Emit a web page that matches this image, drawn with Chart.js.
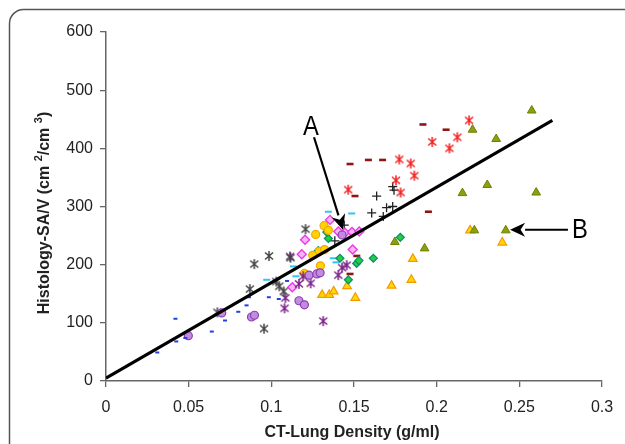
<!DOCTYPE html>
<html>
<head>
<meta charset="utf-8">
<script src="https://cdn.jsdelivr.net/npm/chart.js@4.4.0/dist/chart.umd.min.js"></script>
<style>
  html, body { margin: 0; padding: 0; background: #fff; }
</style>
</head>
<body>
<canvas id="chart" width="625" height="444"></canvas>
<script>
// values: [CT density g/ml, SA/V cm2/cm3]
const blueDash = [[0.031,49],[0.042,107],[0.0425,68],[0.048,74],[0.064,85],[0.072,104],[0.080,119],[0.085,130],[0.0865,144],[0.0985,144],[0.1045,141],[0.1095,172]];
const purpleCircle = [[0.0498,78],[0.070,117],[0.088,110],[0.0898,113],[0.1167,138],[0.120,131],[0.1228,182],[0.1275,184],[0.1295,186],[0.1428,251]];
const grayStar = [[0.0674,118],[0.087,158],[0.0897,201],[0.0956,90],[0.0986,215],[0.103,171],[0.1048,163],[0.1075,154],[0.1116,212],[0.1207,261]];
const purpleStar = [[0.1085,143],[0.108,125],[0.1113,214],[0.1167,167],[0.1193,180],[0.1238,168],[0.1314,103],[0.1405,182],[0.1428,195],[0.1456,199]];
const magentaDiamond = [[0.1127,161],[0.1184,218],[0.1204,243],[0.1355,277],[0.1405,257],[0.1445,255],[0.1488,256],[0.1532,257],[0.1492,226]];
const yellowCircle = [[0.1268,252],[0.1319,267],[0.1345,259],[0.129,223],[0.1322,226],[0.125,216],[0.1297,198],[0.120,185]];
const greenDiamond = [[0.1284,224],[0.1335,256],[0.1345,245],[0.1415,211],[0.1466,174],[0.1516,202],[0.1530,207],[0.1617,211],[0.178,247]];
const cyanDash = [[0.1345,291],[0.1486,288],[0.1375,211],[0.1391,204],[0.1456,255],[0.1133,197],[0.1149,180],[0.0972,174]];
const darkRedDash = [[0.1476,373],[0.1587,380],[0.1673,380],[0.1506,318],[0.1917,441],[0.2057,432],[0.1950,291],[0.1517,215],[0.1476,184]];
const redStar = [[0.1465,329],[0.1754,345],[0.1782,324],[0.1774,381],[0.1843,374],[0.1865,353],[0.1973,411],[0.2077,400],[0.2125,419],[0.2196,448]];
const blackPlus = [[0.1637,318],[0.1607,289],[0.1697,298],[0.1734,300],[0.1677,283],[0.1734,334],[0.1742,328],[0.1441,268],[0.1384,241]];
const oliveTriangle = [[0.2575,465],[0.2217,432],[0.236,416],[0.2306,337],[0.2156,323],[0.2602,324],[0.2228,259],[0.2418,259],[0.1747,239],[0.1927,228]];
const yellowTriangle = [[0.1307,148],[0.135,148],[0.1377,154],[0.1458,163],[0.1508,143],[0.1727,164],[0.1847,174],[0.1856,210],[0.2202,259],[0.2397,238]];
const fitLine = [[0, 5], [0.27, 448]];

const xTicks = [0, 0.05, 0.1, 0.15, 0.2, 0.25, 0.3];
const yTicks = [0, 100, 200, 300, 400, 500, 600];

const xTitle = 'CT-Lung Density (g/ml)';
const yTitleParts = ['Histology-SA/V (cm ', '2', '/cm ', '3', ')'];

// annotations in data units
const notes = [
  { label: 'A', text: [0.124, 438], from: [0.1258, 419], to: [0.1433, 260] },
  { label: 'B', text: [0.2867, 260], from: [0.2794, 260], to: [0.2444, 260] }
];

function pts(arr) { return arr.map(p => ({ x: p[0], y: p[1] })); }

// Excel style asterisk: X with a vertical bar
function asterisk(color) {
  const size = 12;
  const c = document.createElement('canvas');
  c.width = size; c.height = size;
  const g = c.getContext('2d');
  g.strokeStyle = color;
  g.lineWidth = 1.5;
  g.beginPath();
  g.moveTo(2, 2.5); g.lineTo(10, 9.5);
  g.moveTo(10, 2.5); g.lineTo(2, 9.5);
  g.moveTo(6, 1); g.lineTo(6, 11);
  g.stroke();
  return c;
}

function scatter(data, style, color, fill, radius, width) {
  return {
    type: 'scatter',
    data: pts(data),
    pointStyle: style,
    pointRadius: radius,
    borderColor: color,
    backgroundColor: fill,
    pointBorderWidth: width
  };
}

const decorations = {
  id: 'decorations',
  beforeDraw(chart) {
    const ctx = chart.ctx;
    ctx.save();
    ctx.fillStyle = '#fff';
    ctx.fillRect(0, 0, chart.width, chart.height);
    ctx.strokeStyle = '#555';
    ctx.lineWidth = 1.5;
    ctx.beginPath();
    ctx.roundRect(9.5, 9.5, 700, 600, 14);
    ctx.stroke();
    ctx.restore();
  },
  afterDraw(chart) {
    const { ctx, scales: { x, y } } = chart;
    ctx.save();
    ctx.fillStyle = '#222';
    ctx.font = 'bold 16px "Liberation Sans", Arial, sans-serif';
    ctx.textAlign = 'center';
    ctx.textBaseline = 'middle';
    ctx.fillText(xTitle, 352, 433);

    // y title with superscripts
    const big = 'bold 16px "Liberation Sans", Arial, sans-serif';
    const small = 'bold 11px "Liberation Sans", Arial, sans-serif';
    ctx.translate(45, 213);
    ctx.rotate(-Math.PI / 2);
    ctx.textAlign = 'left';
    let total = 0;
    const widths = yTitleParts.map((t, i) => {
      ctx.font = i % 2 ? small : big;
      const w = ctx.measureText(t).width;
      total += w;
      return w;
    });
    let cx = -total / 2;
    yTitleParts.forEach((t, i) => {
      ctx.font = i % 2 ? small : big;
      ctx.fillText(t, cx, i % 2 ? -6 : 0);
      cx += widths[i];
    });
    ctx.restore();

    // arrows and letters
    ctx.save();
    ctx.strokeStyle = '#000';
    ctx.fillStyle = '#000';
    ctx.lineWidth = 2.2;
    notes.forEach(n => {
      const x0 = x.getPixelForValue(n.from[0]), y0 = y.getPixelForValue(n.from[1]);
      const x1 = x.getPixelForValue(n.to[0]), y1 = y.getPixelForValue(n.to[1]);
      const a = Math.atan2(y1 - y0, x1 - x0);
      const hl = 15, hw = 7;
      const bx = x1 - Math.cos(a) * hl, by = y1 - Math.sin(a) * hl;
      ctx.beginPath();
      ctx.moveTo(x0, y0);
      ctx.lineTo(bx, by);
      ctx.stroke();
      ctx.beginPath();
      ctx.moveTo(x1, y1);
      ctx.lineTo(bx - Math.sin(a) * hw, by + Math.cos(a) * hw);
      ctx.lineTo(x1 - Math.cos(a) * hl * 0.7, y1 - Math.sin(a) * hl * 0.7);
      ctx.lineTo(bx + Math.sin(a) * hw, by - Math.cos(a) * hw);
      ctx.closePath();
      ctx.fill();

      ctx.save();
      ctx.translate(x.getPixelForValue(n.text[0]), y.getPixelForValue(n.text[1]));
      ctx.scale(0.85, 1);
      ctx.font = '28px "Liberation Sans", Arial, sans-serif';
      ctx.textAlign = 'center';
      ctx.textBaseline = 'middle';
      ctx.fillText(n.label, 0, 1);
      ctx.restore();
    });
    ctx.restore();
  }
};

const tickFont = { family: '"Liberation Sans", Arial, sans-serif', size: 16 };

new Chart(document.getElementById('chart'), {
  type: 'scatter',
  data: {
    datasets: [
      {
        type: 'line',
        data: pts(fitLine),
        borderColor: '#000',
        borderWidth: 3,
        pointRadius: 0,
        fill: false,
        order: 0
      },
      scatter(blueDash, 'line', '#1f3fe8', '#1f3fe8', 2, 2),
      scatter(purpleCircle, 'circle', '#8a3fb0', '#c38be0', 4, 1.2),
      scatter(grayStar, asterisk('#444'), '#444', '#444', 5, 1),
      scatter(purpleStar, asterisk('#7a2188'), '#7a2188', '#7a2188', 5, 1),
      scatter(magentaDiamond, 'rectRot', '#e83ce8', '#f8b4f8', 4.5, 1.4),
      scatter(yellowCircle, 'circle', '#f0a800', '#ffd400', 4, 1.2),
      scatter(greenDiamond, 'rectRot', '#0a8a70', '#20d040', 4, 1.2),
      scatter(cyanDash, 'line', '#30c4f0', '#30c4f0', 3.5, 2),
      scatter(darkRedDash, 'line', '#8e1515', '#8e1515', 3.5, 2.6),
      scatter(redStar, asterisk('#f42020'), '#f42020', '#f42020', 5, 1),
      scatter(blackPlus, 'cross', '#222', '#222', 4.5, 1.3),
      scatter(oliveTriangle, 'triangle', '#6f8000', '#8d9e10', 5, 1),
      scatter(yellowTriangle, 'triangle', '#f39a00', '#ffd800', 5, 1.2)
    ]
  },
  options: {
    responsive: false,
    animation: false,
    events: [],
    layout: { padding: { left: 0, top: 32, right: 23, bottom: 0 } },
    plugins: { legend: { display: false }, tooltip: { enabled: false } },
    scales: {
      x: {
        type: 'linear',
        min: 0,
        max: 0.3,
        afterFit: s => { s.height = 63; },
        afterBuildTicks: s => { s.ticks = xTicks.map(v => ({ value: v })); },
        ticks: {
          color: '#222',
          font: tickFont,
          padding: 11,
          maxRotation: 0,
          callback: v => String(+v.toFixed(2))
        },
        grid: { drawOnChartArea: false, color: '#666', tickLength: 6, lineWidth: 1.3 },
        border: { color: '#666', width: 1.5 }
      },
      y: {
        type: 'linear',
        min: 0,
        max: 600,
        afterFit: s => { s.width = 106; },
        afterBuildTicks: s => { s.ticks = yTicks.map(v => ({ value: v })); },
        ticks: { color: '#222', font: tickFont, padding: 7 },
        grid: { drawOnChartArea: false, color: '#666', tickLength: 6, lineWidth: 1.3 },
        border: { color: '#666', width: 1.5 }
      }
    }
  },
  plugins: [decorations]
});
</script>
</body>
</html>
